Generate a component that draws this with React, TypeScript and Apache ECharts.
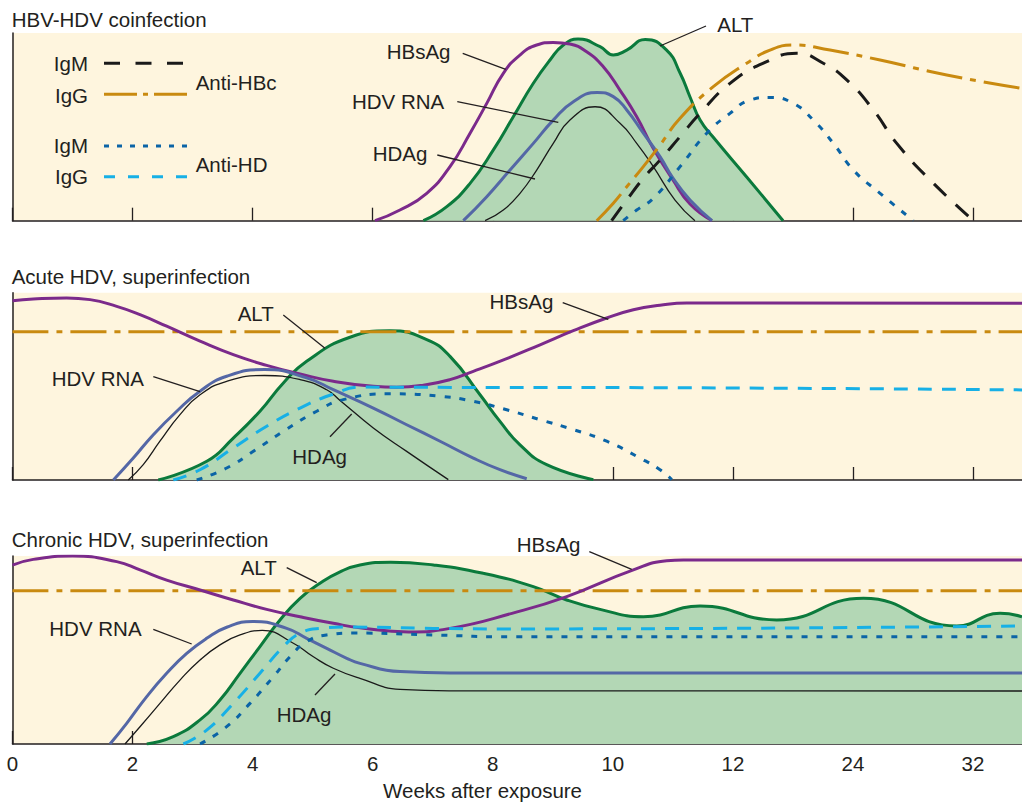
import React, { useEffect, useRef } from "react";
import * as echarts from "echarts";

// ---- axis ----
const xTickLabels = ["0", "2", "4", "6", "8", "10", "12", "24", "32"];
const xTickPositions = [0, 1, 2, 3, 4, 5, 6, 7, 8];
const X_MAX = 8.408;

// ---- Panel 1: HBV-HDV coinfection ([axis position, level %]) ----
const p1HBsAg = [[3.019, 0], [3.227, 5.7], [3.45, 14.6], [3.644, 28.8], [3.811, 46.6], [3.95, 62.5], [4.088, 78.5], [4.227, 88.3], [4.366, 93.6], [4.504, 95.0], [4.643, 94.1], [4.782, 90.0], [4.921, 82.0], [5.059, 69.6], [5.199, 55.4], [5.335, 38.7], [5.501, 21.7], [5.643, 8.9], [5.826, 0]];
const p1ALT = [[3.422, 0], [3.617, 7.5], [3.811, 19.9], [4.005, 37.7], [4.171, 55.4], [4.338, 73.2], [4.477, 85.6], [4.588, 93.6], [4.71, 96.8], [4.894, 92.7], [5.004, 88.3], [5.116, 90.9], [5.27, 96.6], [5.448, 90.9], [5.56, 78.7], [5.643, 65.9], [5.727, 53.6], [5.835, 44.6], [6.115, 23.3], [6.418, 0]];
const p1HdvRna = [[3.755, 0], [3.95, 12.8], [4.144, 27.0], [4.338, 41.2], [4.504, 53.6], [4.671, 63.4], [4.87, 68.3], [5.004, 66.1], [5.116, 59.0], [5.254, 46.6], [5.393, 34.1], [5.501, 22.7], [5.643, 11.0], [5.826, 0]];
const p1HDAg = [[3.936, 0], [4.088, 5.7], [4.227, 14.6], [4.366, 27.0], [4.504, 41.2], [4.643, 53.6], [4.852, 60.7], [5.06, 51.9], [5.199, 41.2], [5.337, 28.8], [5.518, 11.0], [5.684, 0]];
const p1AntiHBcIgG = [[4.866, 0], [5.004, 9.3], [5.116, 18.1], [5.254, 28.8], [5.393, 40.3], [5.56, 54.6], [5.837, 71.4], [6.115, 83.9], [6.309, 90.9], [6.503, 93.6], [6.809, 90.9], [7.226, 85.6], [7.781, 77.6], [8.408, 70.5]];
const p1AntiHBcIgM = [[4.99, 0], [5.116, 11.0], [5.254, 22.6], [5.393, 32.3], [5.56, 44.8], [5.727, 57.2], [5.976, 73.2], [6.254, 83.9], [6.532, 89.2], [6.753, 83.9], [6.948, 75.0], [7.17, 59.0], [7.365, 41.2], [7.642, 21.7], [8.003, 0]];
const p1AntiHDIgM = [[5.087, 0], [5.199, 5.7], [5.337, 11.9], [5.56, 28.8], [5.782, 46.6], [5.976, 57.2], [6.143, 64.3], [6.309, 65.7], [6.503, 62.5], [6.67, 53.6], [6.837, 41.2], [7.003, 27.0], [7.226, 14.6], [7.503, 0]];

// ---- Panel 2: Acute HDV, superinfection ----
const p2HBsAg = [[0, 95.7], [0.173, 96.6], [0.451, 97.2], [0.646, 96.3], [0.868, 92.7], [1.062, 88.3], [1.284, 82.1], [1.562, 74.1], [1.839, 66.9], [2.117, 61.2], [2.395, 56.6], [2.672, 52.7], [3.005, 50.0], [3.2, 49.5], [3.422, 50.6], [3.644, 53.6], [3.838, 58.0], [4.116, 64.8], [4.394, 72.2], [4.671, 79.7], [4.949, 86.5], [5.171, 90.9], [5.393, 93.3], [5.616, 94.5], [8.408, 94.4]];
const p2ALT = [[1.214, 0], [1.618, 10.0], [1.839, 22.4], [2.061, 36.7], [2.256, 51.8], [2.45, 63.4], [2.811, 76.2], [3.144, 79.7], [3.45, 75.0], [3.644, 66.0], [3.894, 45.5], [4.06, 31.3], [4.227, 18.8], [4.449, 8.2], [4.838, 0.2]];
const p2HdvRna = [[0.84, 0], [1.006, 11.7], [1.173, 24.2], [1.368, 36.7], [1.562, 47.4], [1.784, 55.4], [2.1, 59.0], [2.45, 54.5], [2.672, 48.2], [3.005, 38.4], [3.283, 29.5], [3.561, 20.7], [3.838, 11.7], [4.06, 5.5], [4.283, 0.7]];
const p2HDAg = [[0.964, 0], [1.089, 8.2], [1.228, 20.7], [1.395, 34.9], [1.562, 45.5], [1.784, 52.7], [2.1, 55.8], [2.395, 53.6], [2.617, 48.2], [2.728, 42.5], [3.005, 27.8], [3.283, 15.3], [3.63, 0.2]];
const p2AntiHBcIgG = [[0, 79.2], [8.408, 79.2]];
const p2AntiHDIgG = [[1.339, 0], [1.562, 5.5], [1.839, 17.1], [2.117, 28.7], [2.395, 38.4], [2.672, 45.9], [2.894, 49.6], [3.2, 49.5], [5.282, 49.3], [8.408, 48.1]];
const p2AntiHDIgM = [[1.534, 0], [1.784, 6.4], [2.006, 15.3], [2.256, 26.0], [2.534, 36.7], [2.755, 42.9], [3.15, 46.0], [3.561, 44.7], [3.838, 42.0], [4.116, 37.5], [4.394, 32.2], [4.671, 26.9], [4.949, 20.7], [5.227, 11.7], [5.393, 5.5], [5.491, 0.2]];

// ---- Panel 3: Chronic HDV, superinfection ----
const p3HBsAg = [[0, 95.2], [0.173, 98.2], [0.5, 100], [0.868, 97.0], [1.062, 92.6], [1.284, 87.2], [1.562, 81.9], [1.839, 76.6], [2.117, 71.6], [2.395, 67.7], [2.672, 64.2], [2.894, 61.8], [3.3, 59.6], [3.644, 61.5], [4.16, 69.5], [4.616, 78.4], [5.171, 92.6], [5.449, 97.5], [5.587, 97.9], [8.408, 97.9]];
const p3ALT = [[1.118, 0], [1.339, 3.9], [1.562, 12.8], [1.728, 23.4], [1.895, 37.6], [2.061, 51.8], [2.228, 66.0], [2.395, 77.5], [2.561, 85.5], [2.728, 91.6], [2.894, 95.2], [3.15, 96.7], [3.505, 95.2], [3.921, 90.8], [4.338, 83.7], [4.616, 76.6], [4.894, 71.6], [5.254, 67.7], [5.727, 73.4], [6.365, 66.0], [7.087, 77.5], [7.864, 62.8], [8.225, 69.5], [8.408, 67.7]];
const p3HdvRna = [[0.812, 0], [0.951, 11.0], [1.118, 25.2], [1.284, 37.6], [1.451, 48.2], [1.617, 56.2], [1.784, 62.1], [2.0, 65.2], [2.284, 61.5], [2.45, 56.2], [2.617, 50.9], [2.784, 45.6], [2.894, 42.9], [3.228, 38.5], [3.644, 37.8], [8.408, 37.8]];
const p3HDAg = [[0.937, 0], [1.062, 9.2], [1.228, 21.6], [1.395, 34.0], [1.562, 44.7], [1.728, 52.7], [1.895, 58.0], [2.08, 60.4], [2.339, 53.6], [2.506, 46.4], [2.672, 40.3], [2.894, 34.9], [3.228, 29.1], [3.644, 28.3], [8.408, 28.2]];
const p3AntiHBcIgG = [[0, 81.5], [8.408, 81.5]];
const p3AntiHDIgG = [[1.423, 0], [1.617, 7.4], [1.839, 21.6], [2.061, 37.6], [2.256, 51.8], [2.395, 58.9], [2.561, 61.5], [2.8, 62.2], [3.505, 61.5], [4.16, 61.2], [8.408, 62.8]];
const p3AntiHDIgM = [[1.562, 0], [1.784, 9.2], [1.978, 21.6], [2.173, 35.8], [2.311, 46.4], [2.45, 54.4], [2.617, 58.0], [2.85, 59.0], [3.505, 58.0], [4.16, 57.0], [8.408, 57.1]];

// ---- styles ----
const INK = "#231f20";
const BG = "#fef5de";
const ALT_FILL = "#b3d7b5";
const C_ALT = "#0b7a3c";
const C_HBSAG = "#7b2a8b";
const C_RNA = "#5467a6";
const C_HDAG = "#1a1a1a";
const C_GOLD = "#c98a10";
const C_IGM_HBC = "#1a1a1a";
const C_IGM_HD = "#0b64a6";
const C_IGG_HD = "#17b0e6";
const FONT = "Liberation Sans, Arial, Helvetica, sans-serif";
const FS = 20.5;

const DASH_IGM_HBC = [17, 13];
const DASH_IGG_HBC = [36, 8, 6, 8];
const DASH_IGM_HD = [6, 9];
const DASH_IGG_HD = [14, 10];

function lineSeries(name: string, data: number[][], grid: number, color: string, width: number, dash: any, area?: string) {
  const s: any = {
    name,
    type: "line",
    xAxisIndex: grid,
    yAxisIndex: grid,
    data,
    smooth: 0.5,
    symbol: "none",
    lineStyle: { color, width, type: dash || "solid", cap: "butt", join: "round" },
    silent: true,
  };
  if (area) s.areaStyle = { color: area, opacity: 1 };
  return s;
}

function txt(text: string, x: number, y: number, align = "left") {
  return {
    type: "text",
    x,
    y,
    z: 100,
    silent: true,
    style: {
      text,
      fill: INK,
      fontSize: FS,
      fontFamily: FONT,
      align,
      textAlign: align,
      verticalAlign: "middle",
      textVerticalAlign: "middle",
    },
  };
}

function seg(x1: number, y1: number, x2: number, y2: number, stroke = INK, lineWidth = 1.3, lineDash?: number[]) {
  return {
    type: "line",
    z: 100,
    silent: true,
    shape: { x1, y1, x2, y2 },
    style: { stroke, lineWidth, lineDash: lineDash || null },
  };
}

const gridDefs = [
  { top: 33, height: 187.7 },
  { top: 292.7, height: 187.3 },
  { top: 556, height: 188 },
];

export default function App() {
  const ref = useRef<HTMLDivElement>(null);

  useEffect(() => {
    if (!ref.current) return;
    const chart = echarts.init(ref.current, null, { renderer: "svg" });

    const grids = gridDefs.map((g) => ({
      left: 12.5,
      right: 0,
      top: g.top,
      height: g.height,
      show: true,
      backgroundColor: BG,
      borderWidth: 0,
    }));

    const xAxes = gridDefs.map((_, i) => ({
      gridIndex: i,
      type: "value",
      min: 0,
      max: X_MAX,
      interval: 1,
      axisLine: { show: true, lineStyle: { color: INK, width: 1.5 } },
      axisTick: {
        show: true,
        inside: true,
        length: 13,
        customValues: xTickPositions,
        lineStyle: { color: INK, width: 1.3 },
      },
      axisLabel: {
        show: i === 2,
        customValues: xTickPositions,
        color: INK,
        fontSize: FS,
        fontFamily: FONT,
        margin: 9,
        formatter: (v: number) => (Math.abs(v - Math.round(v)) > 1e-6 ? "" : xTickLabels[Math.round(v)] ?? ""),
      },
      splitLine: { show: false },
    }));

    const yAxes = gridDefs.map((_, i) => ({
      gridIndex: i,
      type: "value",
      min: 0,
      max: 100,
      axisLine: { show: true, lineStyle: { color: INK, width: 1.5 } },
      axisTick: { show: false },
      axisLabel: { show: false },
      splitLine: { show: false },
    }));

    const series = [
      // panel 1
      lineSeries("ALT", p1ALT, 0, C_ALT, 3, null, ALT_FILL),
      lineSeries("HBsAg", p1HBsAg, 0, C_HBSAG, 3, null),
      lineSeries("HDV RNA", p1HdvRna, 0, C_RNA, 3, null),
      lineSeries("HDAg", p1HDAg, 0, C_HDAG, 1.3, null),
      lineSeries("IgG anti-HBc", p1AntiHBcIgG, 0, C_GOLD, 3, DASH_IGG_HBC),
      lineSeries("IgM anti-HBc", p1AntiHBcIgM, 0, C_IGM_HBC, 3, DASH_IGM_HBC),
      lineSeries("IgM anti-HD", p1AntiHDIgM, 0, C_IGM_HD, 3, DASH_IGM_HD),
      // panel 2
      lineSeries("ALT", p2ALT, 1, C_ALT, 3, null, ALT_FILL),
      lineSeries("IgG anti-HBc", p2AntiHBcIgG, 1, C_GOLD, 3, DASH_IGG_HBC),
      lineSeries("HBsAg", p2HBsAg, 1, C_HBSAG, 3, null),
      lineSeries("HDV RNA", p2HdvRna, 1, C_RNA, 3, null),
      lineSeries("HDAg", p2HDAg, 1, C_HDAG, 1.3, null),
      lineSeries("IgG anti-HD", p2AntiHDIgG, 1, C_IGG_HD, 3, DASH_IGG_HD),
      lineSeries("IgM anti-HD", p2AntiHDIgM, 1, C_IGM_HD, 3, DASH_IGM_HD),
      // panel 3
      lineSeries("ALT", p3ALT, 2, C_ALT, 3, null, ALT_FILL),
      lineSeries("IgG anti-HBc", p3AntiHBcIgG, 2, C_GOLD, 3, DASH_IGG_HBC),
      lineSeries("HBsAg", p3HBsAg, 2, C_HBSAG, 3, null),
      lineSeries("HDV RNA", p3HdvRna, 2, C_RNA, 3, null),
      lineSeries("HDAg", p3HDAg, 2, C_HDAG, 1.3, null),
      lineSeries("IgG anti-HD", p3AntiHDIgG, 2, C_IGG_HD, 3, DASH_IGG_HD),
      lineSeries("IgM anti-HD", p3AntiHDIgM, 2, C_IGM_HD, 3, DASH_IGM_HD),
    ];

    const graphic: any[] = [
      // titles
      txt("HBV-HDV coinfection", 11.7, 19.5),
      txt("Acute HDV, superinfection", 11.7, 276),
      txt("Chronic HDV, superinfection", 11.7, 539),
      txt("Weeks after exposure", 383, 790),
      // legend (panel 1)
      txt("IgM", 88, 63, "right"),
      seg(104, 63.3, 187, 63.3, C_IGM_HBC, 3, [16, 15.5]),
      txt("IgG", 88, 95, "right"),
      seg(104, 94.3, 187, 94.3, C_GOLD, 3, [33, 6, 5, 6]),
      txt("Anti-HBc", 195.7, 82),
      txt("IgM", 88, 145.5, "right"),
      seg(104, 146, 187, 146, C_IGM_HD, 3, [5, 8]),
      txt("IgG", 88, 176.5, "right"),
      seg(104, 176.7, 187, 176.7, C_IGG_HD, 3, [11, 13]),
      txt("Anti-HD", 195.7, 164),
      // panel 1 annotations
      txt("HBsAg", 386.7, 51),
      seg(462.7, 53.3, 505.7, 69.3),
      txt("HDV RNA", 352, 101),
      seg(457.3, 101.7, 558.3, 122.3),
      txt("HDAg", 372.7, 153),
      seg(437.3, 155, 535, 179),
      txt("ALT", 717.3, 24),
      seg(706, 26, 660, 46),
      // panel 2 annotations
      txt("ALT", 237.7, 313),
      seg(283.3, 315, 325, 348.3),
      txt("HDV RNA", 51.7, 378),
      seg(153.3, 376.7, 200, 391.7),
      txt("HDAg", 292.3, 456),
      seg(330, 436.7, 351.7, 414),
      txt("HBsAg", 553.3, 301, "right"),
      seg(562.7, 302.7, 608.3, 319.3),
      // panel 3 annotations
      txt("ALT", 240.7, 567),
      seg(286.7, 567.7, 316.7, 582.7),
      txt("HDV RNA", 49.3, 628),
      seg(153.3, 629.3, 191.7, 644),
      txt("HDAg", 276.7, 714.5),
      seg(315, 695, 335, 674),
      txt("HBsAg", 516.7, 544.5),
      seg(589.3, 551.7, 631.7, 569.3),
    ];

    chart.setOption({
      animation: false,
      backgroundColor: "#ffffff",
      grid: grids,
      xAxis: xAxes,
      yAxis: yAxes,
      series,
      graphic,
    });

    return () => chart.dispose();
  }, []);

  return (
    <div
      ref={ref}
      style={{ position: "fixed", left: 0, top: 0, width: 1022, height: 802 }}
    />
  );
}
